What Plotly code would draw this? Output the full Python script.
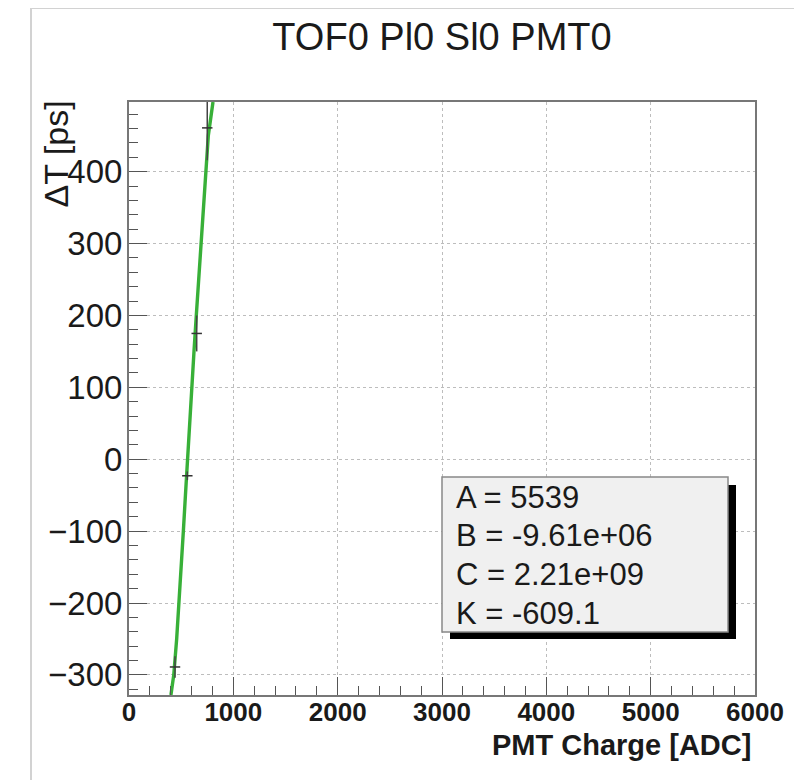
import plotly.graph_objects as go

# ---- data ----
charge_pts = [441, 559, 649, 750]          # PMT charge [ADC]
dt_pts = [-289, -23, 175, 461]             # Delta T [ps]
charge_err = [50, 50, 50, 50]
dt_err = [15, 6, 25, 45]

fit_dt = [-328, -300, -250, -200, -150, -100, -50, 0, 50, 100, 150, 200,
          250, 300, 350, 400, 450, 497]
fit_charge = [402, 429, 457, 481, 502, 521, 541, 560, 580, 601, 623, 645,
              667, 689, 710, 732, 760, 805]

fit_labels = ["A = 5539", "B = -9.61e+06", "C = 2.21e+09", "K = -609.1"]

x_ticks = [0, 1000, 2000, 3000, 4000, 5000, 6000]
y_ticks = [-300, -200, -100, 0, 100, 200, 300, 400]

title_text = "TOF0 Pl0 Sl0 PMT0"
x_title = "PMT Charge [ADC]"
y_title = "ΔT [ps]"

# ---- geometry (screen pixels; the page adds an 8px body margin) ----
OFF = 8
W, H = 802, 780
FL, FR, FT, FB = 129, 755, 102, 695      # plot frame in screen px
PW, PH = FR - FL, FB - FT
L, T = FL - OFF, FT - OFF
R = W - L - PW
B = H - T - PH


def px(xs):
    return (xs - FL) / PW


def py(ys):
    return (FB - ys) / PH


FONT = "Liberation Sans, Arial, Helvetica, sans-serif"

fig = go.Figure()

fig.add_trace(go.Scatter(
    x=fit_charge, y=fit_dt, mode="lines",
    line=dict(color="#38b038", width=3.4), hoverinfo="skip",
    showlegend=False))

fig.add_trace(go.Scatter(
    x=charge_pts, y=dt_pts, mode="markers",
    marker=dict(size=1, color="#333"),
    error_x=dict(type="data", array=charge_err, width=0, thickness=1.5, color="#333"),
    error_y=dict(type="data", array=dt_err, width=0, thickness=1.5, color="#444"),
    showlegend=False))

shapes = [
    # canvas border (top and left)
    dict(type="line", xref="paper", yref="paper", x0=px(31), x1=px(31), y0=py(790), y1=py(8),
         line=dict(color="#d2d2d2", width=2)),
    dict(type="line", xref="paper", yref="paper", x0=px(31), x1=px(812), y0=py(8), y1=py(8),
         line=dict(color="#d2d2d2", width=2)),
    # stats box shadow
    dict(type="rect", xref="paper", yref="paper", x0=px(450), x1=px(736), y0=py(639), y1=py(485),
         fillcolor="black", line=dict(width=0)),
    # stats box
    dict(type="rect", xref="paper", yref="paper", x0=px(442), x1=px(728), y0=py(632), y1=py(477),
         fillcolor="#f0f0f0", line=dict(color="#888", width=1.5)),
]

annotations = []
for i, txt in enumerate(fit_labels):
    annotations.append(dict(
        text=txt, xref="paper", yref="paper", x=px(454), y=py(497 + i * 38.7),
        xanchor="left", yanchor="middle", showarrow=False,
        font=dict(family=FONT, size=31, color="#1a1a1a")))

annotations.append(dict(
    text=x_title, xref="paper", yref="paper", x=px(753), y=py(745),
    xanchor="right", yanchor="middle", showarrow=False,
    font=dict(family=FONT, size=29, color="#1a1a1a", weight="bold")))

annotations.append(dict(
    text=y_title, xref="paper", yref="paper", x=px(55), y=py(99),
    xanchor="center", yanchor="top", textangle=-90, showarrow=False,
    font=dict(family=FONT, size=34, color="#1a1a1a")))

fig.update_layout(
    width=W, height=H,
    margin=dict(l=L, r=R, t=T, b=B),
    paper_bgcolor="white", plot_bgcolor="white",
    title=dict(text=title_text, x=0.5, xref="paper", xanchor="center",
               y=1 - (37 - OFF) / H, yref="container", yanchor="middle",
               font=dict(family=FONT, size=38, color="#1a1a1a")),
    shapes=shapes, annotations=annotations,
    showlegend=False,
)

fig.update_xaxes(
    range=[0, 6000], tickvals=x_ticks, ticktext=[str(v) for v in x_ticks],
    ticks="inside", ticklen=18, tickwidth=1.2, tickcolor="#555",
    minor=dict(dtick=200, tick0=0, ticks="inside", ticklen=9, tickcolor="#555",
               tickwidth=1.2, showgrid=False),
    showline=True, linecolor="#777", linewidth=2, mirror=True,
    showgrid=True, gridcolor="#bdbdbd", griddash="dot", gridwidth=1,
    zeroline=False,
    tickfont=dict(family=FONT, size=26, color="#1a1a1a", weight="bold"),
    ticklabelstandoff=-7,
)

fig.update_yaxes(
    range=[-328, 497], tickvals=y_ticks,
    ticks="inside", ticklen=18, tickwidth=1.2, tickcolor="#555",
    minor=dict(dtick=20, tick0=0, ticks="inside", ticklen=9, tickcolor="#555",
               tickwidth=1.2, showgrid=False),
    showline=True, linecolor="#777", linewidth=2, mirror=True,
    showgrid=True, gridcolor="#bdbdbd", griddash="dot", gridwidth=1,
    zeroline=False,
    tickfont=dict(family=FONT, size=33, color="#1a1a1a"),
    ticklabelstandoff=-2,
)

fig.write_html("out.html")
